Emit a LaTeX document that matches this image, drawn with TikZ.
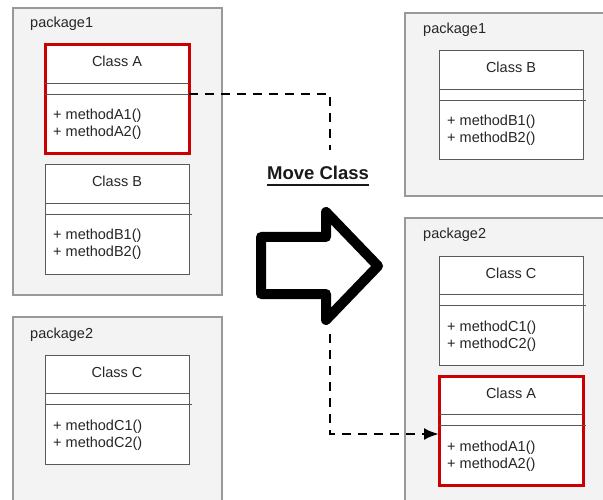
\documentclass[tikz,border=0pt]{standalone}
\usepackage{fontspec}
\setmainfont{Liberation Sans}
\usetikzlibrary{arrows.meta}
\definecolor{pkgfill}{HTML}{F3F3F3}
\definecolor{pkgline}{HTML}{999999}
\definecolor{clsline}{HTML}{595959}
\definecolor{hl}{HTML}{CC0000}
\tikzset{
  pkg/.style={draw=pkgline, fill=pkgfill, line width=1.2pt},
  cls/.style={draw=clsline, fill=white, line width=1pt, minimum width=144pt, minimum height=109pt, anchor=north west, inner sep=0pt, outer sep=0pt},
  hlcls/.style={cls, draw=hl, line width=3pt},
  sepline/.style={draw=clsline, line width=0.9pt},
  lbl/.style={font=\fontsize{14.5}{17}\selectfont, inner sep=0pt, text=black!85},
  conn/.style={line width=2.6pt, dash pattern=on 9pt off 7pt},
  bigarrow/.style={line width=10pt, line join=round, fill=white},
}
\newcommand{\umlcls}[7]{%
  \node[#4] (#1) at (#2,#3) {};
  \draw[sepline] ([yshift=-38pt]#1.north west) -- ([yshift=-38pt]#1.north east);
  \draw[sepline] ([yshift=-49pt]#1.north west) -- ([yshift=-49pt,xshift=3pt]#1.north east);
  \node[lbl, anchor=base] (#1t) at ([yshift=-22pt]#1.north) {#5};
  \node[lbl, anchor=base west] (#1ma) at ([xshift=8pt,yshift=-75pt]#1.north west) {+ #6};
  \node[lbl, anchor=base west] (#1mb) at ([xshift=8pt,yshift=-92pt]#1.north west) {+ #7};
}
\begin{document}
\begin{tikzpicture}[x=1pt,y=-1pt]
\useasboundingbox (0,0) rectangle (603,500);
\fill[white] (0,0) rectangle (603,500);
\clip (0,0) rectangle (603,500);
% packages
\path[pkg] (13,8) rectangle (222,295);
\node[lbl, anchor=base west] (lp1) at (30,28) {package1};
\path[pkg] (13,317) rectangle (222,512);
\node[lbl, anchor=base west] (lp2) at (30,338) {package2};
\path[pkg] (405,13) rectangle (615,196);
\node[lbl, anchor=base west] (rp1) at (423,34) {package1};
\path[pkg] (405,218) rectangle (615,512);
\node[lbl, anchor=base west] (rp2) at (423,239) {package2};
% classes
\umlcls{oldA}{45}{45}{hlcls}{Class A}{methodA1()}{methodA2()}
\umlcls{oldB}{45}{165}{cls}{Class B}{methodB1()}{methodB2()}
\umlcls{oldC}{45}{355}{cls}{Class C}{methodC1()}{methodC2()}
\umlcls{newB}{439}{51}{cls}{Class B}{methodB1()}{methodB2()}
\umlcls{newC}{439}{256}{cls}{Class C}{methodC1()}{methodC2()}
\umlcls{newA}{439}{376}{hlcls}{Class A}{methodA1()}{methodA2()}
% title
\node[font=\fontsize{18.5}{20}\selectfont\bfseries, inner sep=0pt, anchor=base, text=black!90] (mc) at (318,180) {Move Class};
\draw[line width=1.4pt, black!90] ([yshift=-5pt]mc.base west) -- ([yshift=-5pt]mc.base east);
% big arrow
\draw[bigarrow] (261,237) -- (326,237) -- (326,212) -- (378,266) -- (326,320) -- (326,294) -- (261,294) -- cycle;
% connectors
\coordinate (bendA) at (330,94);
\coordinate (endA) at (330,150);
\coordinate (startB) at (330,334);
\coordinate (bendB) at (330,434);
\draw[conn] (oldA.east |- bendA) -- (bendA) -- (endA);
\draw[conn, -{Latex[length=15pt,width=12pt]}] (startB) -- (bendB) -- (bendB -| newA.west);
\end{tikzpicture}
\end{document}
